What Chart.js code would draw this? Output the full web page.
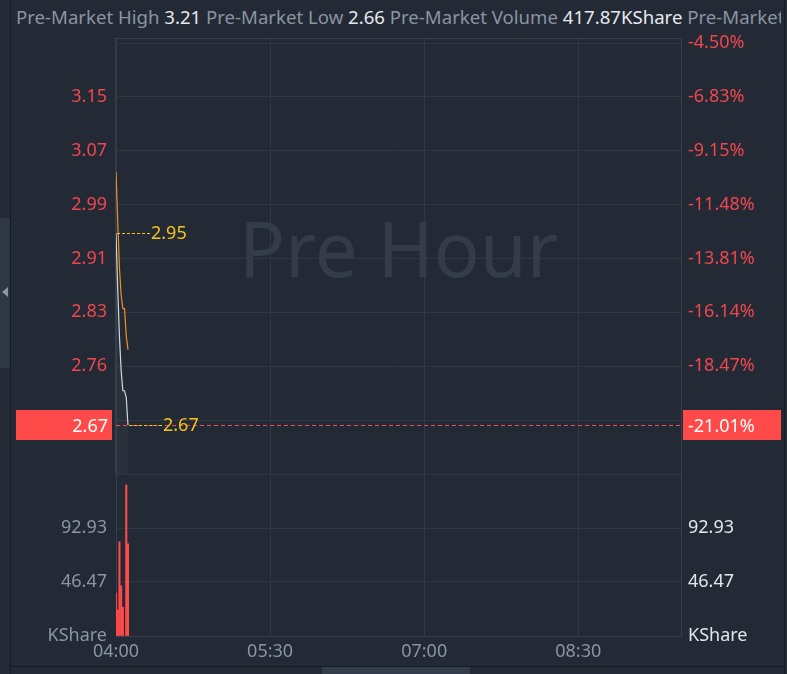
<!DOCTYPE html>
<html><head><meta charset="utf-8">
<script src="https://cdn.jsdelivr.net/npm/chart.js@4.4.1/dist/chart.umd.min.js"></script>
<style>
html,body{margin:0;padding:0;background:#232a35;width:787px;height:674px;overflow:hidden;font-family:"Noto Sans",sans-serif;}
#hdr{position:absolute;left:16px;top:4px;width:765px;white-space:nowrap;overflow:hidden;font-size:18.6px;color:#8a94a2;}
#hdr b{font-weight:normal;color:#e6e9ee;}
#c1{position:absolute;left:0;top:30px;}
#c2{position:absolute;left:0;top:470px;}
.dec{position:absolute;}
</style></head>
<body>
<div class="dec" style="left:10px;top:0;width:1px;height:674px;background:#161b22"></div>
<div class="dec" style="left:0;top:218px;width:10px;height:150px;background:#2d3746"></div>
<div class="dec" style="left:2px;top:287px;width:0;height:0;border-top:5px solid transparent;border-bottom:5px solid transparent;border-right:6px solid #8a94a2"></div>
<div class="dec" style="left:784px;top:0;width:1px;height:674px;background:#161b22"></div>
<div class="dec" style="left:10px;top:666px;width:775px;height:1px;background:#161b22"></div>
<div class="dec" style="left:322px;top:667px;width:148px;height:7px;background:#323c4b"></div>
<div id="hdr">Pre-Market High <b>3.21</b> Pre-Market Low <b>2.66</b> Pre-Market Volume <b>417.87KShare</b> Pre-Market Change <b>-0.71</b></div>
<canvas id="c1" width="787" height="450"></canvas>
<canvas id="c2" width="787" height="204"></canvas>
<script>
// ---- data ----
const minutes = [0, 1, 2, 3, 4, 5, 6, 7];            // minutes after 04:00
const prices  = [2.95, 2.87, 2.80, 2.75, 2.72, 2.72, 2.71, 2.67];
const avgPrices = [3.04, 2.97, 2.90, 2.86, 2.84, 2.84, 2.80, 2.78];
const volumes = [37.0, 22.5, 81.0, 43.2, 24.8, 0, 130.0, 79.37]; // KShare
const prevClose = 3.3802;
const pctMax = -4.28, pctMin = -23.13;
const pctTicks = [-4.50, -6.83, -9.15, -11.48, -13.81, -16.14, -18.47, -20.80];
const pctTickLabels = ['-4.50%', '-6.83%', '-9.15%', '-11.48%', '-13.81%', '-16.14%', '-18.47%', ''];
const priceTickLabels = ['', '3.15', '3.07', '2.99', '2.91', '2.83', '2.76', ''];
const volTicks = [0, 46.47, 92.93, 139.40];
const volTickLabels = ['KShare', '46.47', '92.93', ''];
const xMax = 330;
const xTicks = [0, 90, 180, 270];
const xTickLabels = ['04:00', '05:30', '07:00', '08:30'];

const FONT = {family: '"Noto Sans", sans-serif', size: 18};
const GRID = '#2f3946';
const RED = '#ff4a4a';
const TICKRED = '#f0464e';
const YELLOW = '#f3c419';

const toPrice = p => prevClose * (1 + p / 100);
const noPad = s => { s.paddingTop = 0; s.paddingBottom = 0; s.paddingLeft = 0; s.paddingRight = 0; };
function dashRow(ctx, x0, x1, y, dash, gap, color) {
  ctx.fillStyle = color;
  const yy = Math.round(y);
  for (let x = Math.round(x0); x < x1; x += dash + gap) {
    ctx.fillRect(x, yy, Math.min(dash, x1 - x), 1);
  }
}

const overlay = {
  id: 'overlay',
  beforeDatasetsDraw(chart) {
    const {ctx, chartArea: a} = chart;
    ctx.save();
    ctx.font = '400 76px "Noto Sans", sans-serif';
    ctx.fillStyle = '#343c48';
    ctx.textAlign = 'center';
    ctx.textBaseline = 'middle';
    ctx.fillText('Pre Hour', (a.left + a.right) / 2, 225);
    ctx.restore();
  },
  afterDatasetsDraw(chart) {
    const {ctx, chartArea: a, scales} = chart;
    const xs = scales.x, ys = scales.yP;
    ctx.save();
    // frame
    ctx.strokeStyle = '#34404d';
    ctx.lineWidth = 1;
    ctx.beginPath();
    ctx.moveTo(a.left - 0.5, a.bottom); ctx.lineTo(a.left - 0.5, a.top + 0.5);
    ctx.lineTo(a.right + 0.5, a.top + 0.5); ctx.lineTo(a.right + 0.5, a.bottom);
    ctx.stroke();
    const last = prices[prices.length - 1];
    const lastY = Math.round(ys.getPixelForValue(last));
    // last price dashed line
    dashRow(ctx, a.left, a.right, lastY, 4, 3, '#f24c50');
    // high / low markers
    const hi = Math.max(...prices), lo = Math.min(...prices);
    const hiI = prices.indexOf(hi), loI = prices.lastIndexOf(lo);
    ctx.font = '18px "Noto Sans", sans-serif';
    ctx.textBaseline = 'middle';
    ctx.textAlign = 'left';
    [[hiI, hi], [loI, lo]].forEach(([i, v]) => {
      const px = xs.getPixelForValue(minutes[i]);
      const py = Math.round(ys.getPixelForValue(v));
      dashRow(ctx, px + 1, px + 34, py, 3, 2, YELLOW);
      ctx.fillStyle = YELLOW;
      ctx.fillText(v.toFixed(2), px + 35, py + 1);
    });
    // label boxes
    ctx.fillStyle = RED;
    ctx.fillRect(16, lastY - 15, a.left - 20, 30);
    ctx.fillRect(a.right + 2, lastY - 15, 98, 30);
    ctx.fillStyle = '#ffffff';
    ctx.textAlign = 'right';
    ctx.fillText(last.toFixed(2), a.left - 8, lastY + 1.5);
    ctx.textAlign = 'left';
    ctx.fillText(((last / prevClose - 1) * 100).toFixed(2) + '%', a.right + 7, lastY + 1.5);
    ctx.restore();
  }
};

new Chart(document.getElementById('c1'), {
  type: 'line',
  data: {
    datasets: [
      {data: minutes.map((m, i) => ({x: m, y: avgPrices[i]})), borderColor: '#f0921c', borderWidth: 1.2, pointRadius: 0, yAxisID: 'yP', tension: 0},
      {data: minutes.map((m, i) => ({x: m, y: prices[i]})), borderColor: '#d2d6dc', borderWidth: 1.2, pointRadius: 0, yAxisID: 'yP', tension: 0,
       fill: 'start', backgroundColor: 'rgba(255,255,255,0.035)'}
    ]
  },
  options: {
    responsive: false, animation: false, events: [],
    layout: {padding: {top: 8, bottom: 6, left: 0, right: 0}},
    plugins: {legend: {display: false}, tooltip: {enabled: false}},
    scales: {
      x: {type: 'linear', min: 0, max: xMax, border: {display: false},
          grid: {color: GRID, drawTicks: false},
          ticks: {display: false},
          afterBuildTicks: s => { s.ticks = xTicks.map(v => ({value: v})); },
          afterFit: s => { s.height = 0; noPad(s); }},
      yP: {type: 'linear', position: 'left', min: toPrice(pctMin), max: toPrice(pctMax),
           border: {display: false}, grid: {display: false, drawTicks: false},
           afterBuildTicks: s => { s.ticks = pctTicks.map(p => ({value: toPrice(p)})); },
           ticks: {font: FONT, color: TICKRED, padding: 9, callback: (v, i) => priceTickLabels[i]},
           afterFit: s => { s.width = 116; noPad(s); }},
      yR: {type: 'linear', position: 'right', min: pctMin, max: pctMax,
           border: {display: false}, grid: {color: GRID, drawTicks: false},
           afterBuildTicks: s => { s.ticks = pctTicks.map(p => ({value: p})); },
           ticks: {font: FONT, color: TICKRED, padding: 7, callback: (v, i) => pctTickLabels[i]},
           afterFit: s => { s.width = 106; noPad(s); }}
    }
  },
  plugins: [overlay]
});

new Chart(document.getElementById('c2'), {
  type: 'bar',
  data: {
    datasets: [{data: minutes.map((m, i) => ({x: m, y: volumes[i]})), backgroundColor: RED, barThickness: 1.4, yAxisID: 'yV'}]
  },
  options: {
    responsive: false, animation: false, events: [],
    layout: {padding: {top: 4, bottom: 8, left: 0, right: 0}},
    plugins: {legend: {display: false}, tooltip: {enabled: false}},
    scales: {
      x: {type: 'linear', min: 0, max: xMax, offset: false, border: {display: true, color: '#34404d'},
          grid: {color: GRID, drawTicks: false, offset: false},
          afterBuildTicks: s => { s.ticks = xTicks.map(v => ({value: v})); },
          ticks: {font: FONT, color: '#8a94a2', padding: 5, autoSkip: false, maxRotation: 0, callback: (v, i) => xTickLabels[i]},
          afterFit: s => { s.height = 30; noPad(s); }},
      yV: {type: 'linear', position: 'left', min: 0, max: volTicks[volTicks.length - 1],
           border: {display: true, color: '#34404d'}, grid: {color: GRID, drawTicks: false},
           afterBuildTicks: s => { s.ticks = volTicks.map(v => ({value: v})); },
           ticks: {font: FONT, color: '#8a94a2', padding: 9, callback: (v, i) => volTickLabels[i]},
           afterFit: s => { s.width = 116; noPad(s); }},
      yV2: {type: 'linear', position: 'right', min: 0, max: volTicks[volTicks.length - 1],
           border: {display: true, color: '#34404d'}, grid: {display: false, drawTicks: false},
           afterBuildTicks: s => { s.ticks = volTicks.map(v => ({value: v})); },
           ticks: {font: FONT, color: '#e2e6eb', padding: 7, callback: (v, i) => volTickLabels[i]},
           afterFit: s => { s.width = 106; noPad(s); }}
    }
  }
});
</script>
</body></html>
